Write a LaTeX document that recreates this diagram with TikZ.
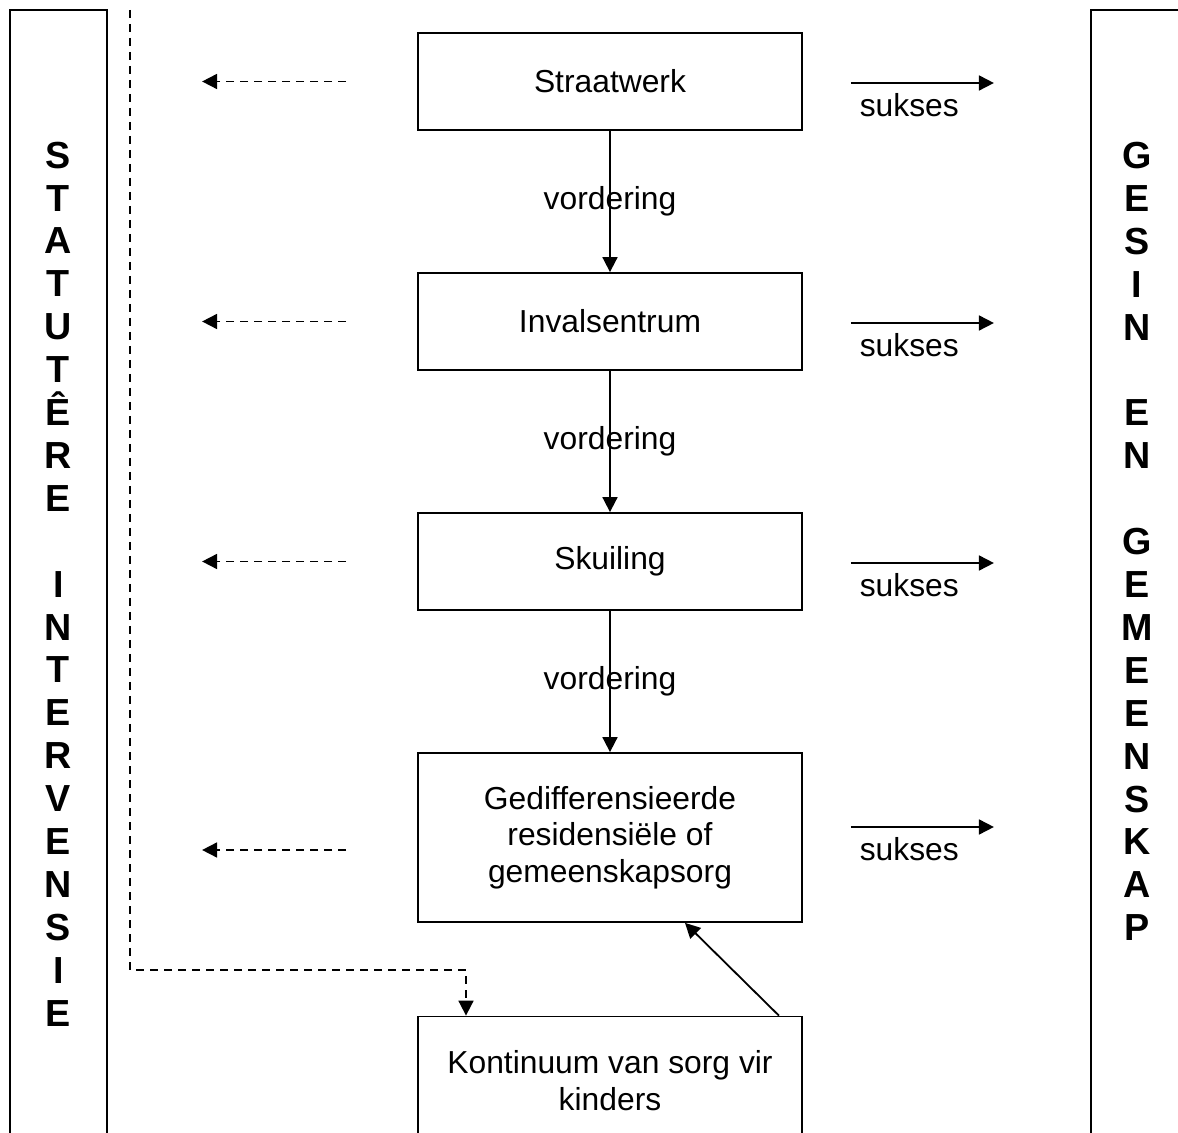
\documentclass[tikz,border=0pt]{standalone}
\usepackage{fontspec}
\setmainfont{Liberation Sans}
\newfontfamily\sidefont{Liberation Sans Bold}
\usetikzlibrary{arrows.meta,positioning}

\begin{document}
\begin{tikzpicture}[x=0.5pt,y=-0.5pt,node distance=120pt,on grid,line width=0.9pt,
    >={Triangle[length=7.5pt,width=7.5pt]},
    every node/.style={font=\fontsize{15.9}{18.35}\selectfont},
    stage/.style={draw,rectangle,minimum width=192pt,minimum height=48.5pt,align=center,inner sep=0pt},
    back/.style={dash pattern=on 4pt off 3pt,->},
    sukses/.style={anchor=north west,inner sep=0pt,xshift=4pt,yshift=-5pt},
    upright/.style={font=\sidefont\fontsize{18.85}{21.45}\selectfont,align=center,inner sep=0pt}]
        \clip (0,0) rectangle (1178,1133);

        % side columns
        \draw (10,10) rectangle (107,1160);
        \draw (1091,10) rectangle (1200,1160);
        \node[upright] (statutere) at (58.5,584) {S\\T\\A\\T\\U\\T\\Ê\\R\\E\\~\\I\\N\\T\\E\\R\\V\\E\\N\\S\\I\\E};
        \node[upright] (gesin)     at (1137,541.5) {G\\E\\S\\I\\N\\~\\E\\N\\~\\G\\E\\M\\E\\E\\N\\S\\K\\A\\P};

        % stages
        \node[stage]                       (straat) at (610,81.5)         {Straatwerk};
        \node[stage]                       (inval)  [below=of straat]     {Invalsentrum};
        \node[stage]                       (skuil)  [below=of inval]      {Skuiling};
        \node[stage,minimum height=84.5pt] (gedif)  [below=138pt of skuil] {Gedifferensieerde\\residensiële of\\gemeenskapsorg};
        \node[stage,minimum height=64pt]   (konti)  [below=121.5pt of gedif] {Kontinuum van sorg vir\\kinders};

        \path[->]   (straat) edge node {vordering} (inval)
                    (inval)  edge node {vordering} (skuil)
                    (skuil)  edge node {vordering} (gedif);

        % sukses arrows
        \coordinate (r1a) at ([xshift=24pt,yshift=-0.75pt]straat.east);
        \coordinate (r1b) at ([xshift=95.5pt,yshift=-0.75pt]straat.east);
        \coordinate (r2a) at ([xshift=24pt,yshift=-0.75pt]inval.east);
        \coordinate (r2b) at ([xshift=95.5pt,yshift=-0.75pt]inval.east);
        \coordinate (r3a) at ([xshift=24pt,yshift=-0.75pt]skuil.east);
        \coordinate (r3b) at ([xshift=95.5pt,yshift=-0.75pt]skuil.east);
        \coordinate (r4a) at ([xshift=24pt,yshift=5.25pt]gedif.east);
        \coordinate (r4b) at ([xshift=95.5pt,yshift=5.25pt]gedif.east);
        \draw[->] (r1a) -- node[sukses,pos=0] {sukses} (r1b);
        \draw[->] (r2a) -- node[sukses,pos=0] {sukses} (r2b);
        \draw[->] (r3a) -- node[sukses,pos=0] {sukses} (r3b);
        \draw[->] (r4a) -- node[sukses,pos=0] {sukses} (r4b);

        % statutory arrows
        \coordinate (l1a) at ([xshift=-35.5pt]straat.west);
        \coordinate (l1b) at ([xshift=-107.5pt]straat.west);
        \coordinate (l2a) at ([xshift=-35.5pt]inval.west);
        \coordinate (l2b) at ([xshift=-107.5pt]inval.west);
        \coordinate (l3a) at ([xshift=-35.5pt]skuil.west);
        \coordinate (l3b) at ([xshift=-107.5pt]skuil.west);
        \coordinate (l4a) at ([xshift=-35.5pt,yshift=-6.25pt]gedif.west);
        \coordinate (l4b) at ([xshift=-107.5pt,yshift=-6.25pt]gedif.west);
        \draw[back] (l1a) -- (l1b);
        \draw[back] (l2a) -- (l2b);
        \draw[back] (l3a) -- (l3b);
        \draw[back] (l4a) -- (l4b);

        % route to continuum
        \coordinate (ltop)  at (130,10);
        \coordinate (lknee) at (466,970);
        \draw[back] (ltop) |- (lknee) -- (lknee |- konti.north);
        \draw[->] ([xshift=-12pt]konti.north east) -- ([xshift=37.5pt]gedif.south);
\end{tikzpicture}
\end{document}
